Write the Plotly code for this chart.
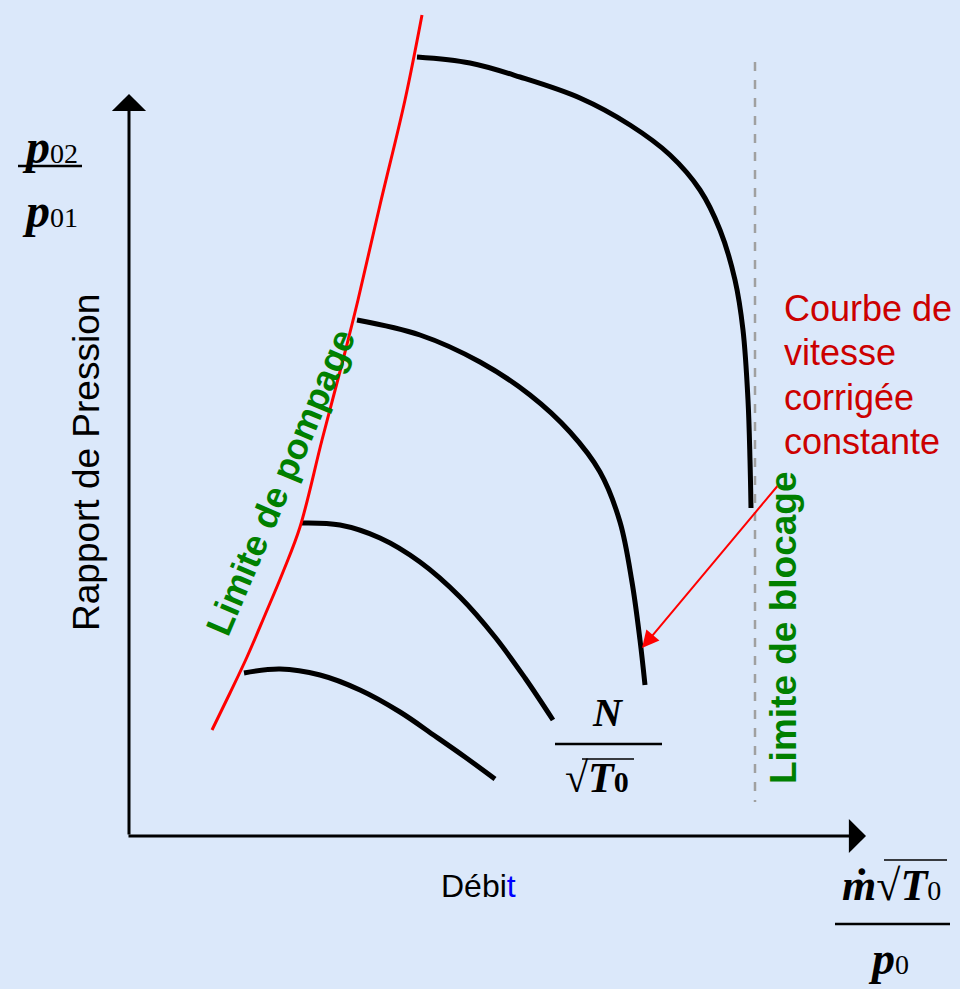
import plotly.graph_objects as go

# ---- data (schematic compressor map, pixel-like coordinates of the picture) ----
speed1_x = [417, 470, 520, 580, 630, 670, 700, 720, 735, 743, 748, 750, 751]
speed1_y = [57, 63, 77, 98, 125, 155, 190, 230, 280, 330, 400, 460, 508]
speed2_x = [357, 420, 480, 530, 570, 600, 620, 632, 640, 645]
speed2_y = [320, 335, 362, 395, 432, 472, 522, 582, 640, 685]
speed3_x = [302, 340, 380, 420, 460, 495, 525, 553]
speed3_y = [523, 525, 538, 562, 597, 637, 678, 720]
speed4_x = [244, 280, 320, 360, 400, 435, 465, 495]
speed4_y = [673, 669, 675, 690, 712, 736, 757, 779]
surge_x = [212, 230, 247, 265, 283, 300, 322, 343, 358, 380, 405, 422]
surge_y = [730, 693, 657, 615, 572, 527, 440, 360, 300, 205, 100, 15]
choke_x = [755, 755]
choke_y = [62, 802]

BG = "#DBE8FA"
fig = go.Figure()

for xs, ys in [(speed1_x, speed1_y), (speed2_x, speed2_y), (speed3_x, speed3_y), (speed4_x, speed4_y)]:
    fig.add_trace(go.Scatter(x=xs, y=ys, mode="lines", line=dict(color="black", width=5, shape="spline", smoothing=1.0),
                             hoverinfo="skip", showlegend=False))
fig.add_trace(go.Scatter(x=surge_x, y=surge_y, mode="lines", line=dict(color="#FF0000", width=3, shape="spline", smoothing=1.0),
                         hoverinfo="skip", showlegend=False))
fig.add_trace(go.Scatter(x=choke_x, y=choke_y, mode="lines", line=dict(color="#A0A0A0", width=2.5, dash="dash"),
                         hoverinfo="skip", showlegend=False))

ann = []
# axes arrows
ann.append(dict(x=129, y=94, ax=129, ay=836, xref="x", yref="y", axref="x", ayref="y", showarrow=True,
                arrowhead=1, arrowsize=1.9, arrowwidth=3, arrowcolor="black", text=""))
ann.append(dict(x=866, y=836, ax=127, ay=836, xref="x", yref="y", axref="x", ayref="y", showarrow=True,
                arrowhead=1, arrowsize=1.9, arrowwidth=3, arrowcolor="black", text=""))
# red arrow
ann.append(dict(x=642, y=648, ax=780, ay=483, xref="x", yref="y", axref="x", ayref="y", showarrow=True,
                arrowhead=2, arrowsize=1.7, arrowwidth=2, arrowcolor="#FF0000", text=""))

sans = "Liberation Sans, Arial, sans-serif"
serif = "Liberation Serif, Times New Roman, serif"

ann.append(dict(x=86, y=463, text="Rapport de Pression", textangle=-90, showarrow=False,
                font=dict(family=sans, size=37, color="black")))
ann.append(dict(x=478, y=886, text="Débi<span style='color:#0000FF'>t</span>", showarrow=False,
                font=dict(family=sans, size=32, color="black")))
for i, line in enumerate(["Courbe de", "vitesse", "corrigée", "constante"]):
    ann.append(dict(x=782, y=308 + 44.5 * i, text=line, showarrow=False, xanchor="left",
                    font=dict(family=sans, size=36, color="#CC0000")))
ann.append(dict(x=280, y=482, text="<b>Limite de pompage</b>", textangle=-67, showarrow=False,
                font=dict(family=sans, size=36, color="#008000")))
ann.append(dict(x=783, y=628, text="<b>Limite de blocage</b>", textangle=-90, showarrow=False,
                font=dict(family=sans, size=37, color="#008000")))

# p02/p01
ann.append(dict(x=50, y=146, text="<b><i>p</i></b><span style='font-size:28px'>02</span>", showarrow=False,
                font=dict(family=serif, size=48, color="black")))
ann.append(dict(x=50, y=210, text="<b><i>p</i></b><span style='font-size:28px'>01</span>", showarrow=False,
                font=dict(family=serif, size=48, color="black")))
# N / sqrt(T0)
ann.append(dict(x=608, y=712, text="<b><i>N</i></b>", showarrow=False,
                font=dict(family=serif, size=40, color="black")))
ann.append(dict(x=597, y=778, text="√<b><i>T</i></b><b><span style='font-size:30px'>0</span></b>", showarrow=False,
                font=dict(family=serif, size=42, color="black")))
# mdot sqrt(T0) / p0
ann.append(dict(x=891, y=885, text="<b><i>ṁ</i></b>√<b><i>T</i></b><span style='font-size:28px'>0</span>", showarrow=False,
                font=dict(family=serif, size=44, color="black")))
ann.append(dict(x=888, y=958, text="<b><i>p</i></b><span style='font-size:28px'>0</span>", showarrow=False,
                font=dict(family=serif, size=46, color="black")))

shapes = [
    dict(type="line", x0=18, x1=82, y0=166, y1=166, xref="x", yref="y", line=dict(color="black", width=2.5)),
    dict(type="line", x0=555, x1=662, y0=744, y1=744, xref="x", yref="y", line=dict(color="black", width=2.5)),
    dict(type="line", x0=582, x1=634, y0=759, y1=759, xref="x", yref="y", line=dict(color="black", width=1.5)),
    dict(type="line", x0=835, x1=950, y0=924, y1=924, xref="x", yref="y", line=dict(color="black", width=2.5)),
    dict(type="line", x0=884, x1=947, y0=860, y1=860, xref="x", yref="y", line=dict(color="black", width=1.5)),
]

fig.update_layout(
    width=960, height=989, margin=dict(l=0, r=0, t=0, b=0),
    paper_bgcolor=BG, plot_bgcolor=BG,
    xaxis=dict(range=[0, 960], visible=False, fixedrange=True),
    yaxis=dict(range=[989, 0], visible=False, fixedrange=True),
    annotations=ann, shapes=shapes, showlegend=False,
)
fig.write_html("out.html", config={"displayModeBar": False},
               post_script="document.body.style.margin='0';document.body.style.overflow='hidden';")
